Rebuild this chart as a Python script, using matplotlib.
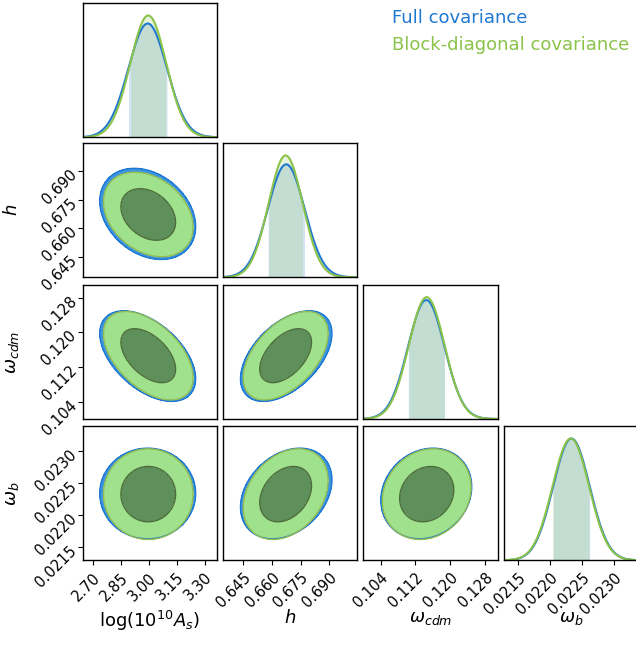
import numpy as np
import matplotlib
matplotlib.use("Agg")
import matplotlib.pyplot as plt

# parameters of the corner plot
params = ["logAs", "h", "omega_cdm", "omega_b"]
labels = [r"$\log(10^{10}A_s)$", r"$h$", r"$\omega_{cdm}$", r"$\omega_b$"]
ranges = [(2.646, 3.368), (0.6343, 0.7045), (0.1000, 0.1309), (0.021295, 0.02339)]
ticks = [[2.70, 2.85, 3.00, 3.15, 3.30],
         [0.645, 0.660, 0.675, 0.690],
         [0.104, 0.112, 0.120, 0.128],
         [0.0215, 0.0220, 0.0225, 0.0230]]
tick_fmt = ["%.2f", "%.3f", "%.3f", "%.4f"]

# posterior summaries
full_mean = [2.995, 0.6675, 0.1145, 0.02234]
full_sigma = [0.1035, 0.0096, 0.0042, 0.000285]
block_mean = [2.998, 0.6672, 0.1146, 0.02233]
block_sigma = [0.0967, 0.0089, 0.0041, 0.000285]

# correlation coefficients (i, j) -> rho
full_corr = {(0, 1): -0.28, (0, 2): -0.50, (0, 3): 0.0,
             (1, 2): 0.50, (1, 3): 0.30, (2, 3): 0.15}
block_corr = {(0, 1): -0.30, (0, 2): -0.50, (0, 3): 0.0,
              (1, 2): 0.50, (1, 3): 0.30, (2, 3): 0.15}

names = ["Full covariance", "Block-diagonal covariance"]

BLUE = "#1f78d0"
GREEN = "#8bc34a"

styles = [
    dict(line=BLUE, outer="#3d95e0", inner="#6f9a86", edge=BLUE, iedge=None, alpha=1.0),
    dict(line=GREEN, outer="#a4e48c", inner="#5f8f5a", edge="#94bd52", iedge="#4d6c3c", alpha=0.97),
]
datasets = [(full_mean, full_sigma, full_corr), (block_mean, block_sigma, block_corr)]

fig = plt.figure(figsize=(6.36, 6.48), dpi=100)

n = len(params)
lefts = [0.130, 0.350, 0.571, 0.793]
bottoms = [0.7881, 0.5721, 0.3534, 0.1353]
w, hgt = 0.2115, 0.2068

lev2 = [0, 2.30, 6.18]

for i in range(n):
    for j in range(i + 1):
        ax = fig.add_axes([lefts[j], bottoms[i], w, hgt])
        for sp in ax.spines.values():
            sp.set_linewidth(1.0)
        if i == j:
            x = np.linspace(ranges[i][0], ranges[i][1], 400)
            peaks = []
            for (m, s, c), st in zip(datasets, styles):
                pdf = np.exp(-0.5 * ((x - m[i]) / s[i]) ** 2) / (s[i] * np.sqrt(2 * np.pi))
                peaks.append(pdf.max())
                inside = (x >= m[i] - s[i]) & (x <= m[i] + s[i])
                ax.fill_between(x, 0, pdf, where=inside, color=st["line"], alpha=0.2, lw=0)
                ax.plot(x, pdf, color=st["line"], lw=1.5)
            ax.set_ylim(0, 1.1 * max(peaks))
            ax.set_yticks([])
        else:
            x = np.linspace(ranges[j][0], ranges[j][1], 300)
            y = np.linspace(ranges[i][0], ranges[i][1], 300)
            X, Y = np.meshgrid(x, y)
            for (m, s, c), st in zip(datasets, styles):
                rho = c[(j, i)]
                zx = (X - m[j]) / s[j]
                zy = (Y - m[i]) / s[i]
                d2 = (zx ** 2 - 2 * rho * zx * zy + zy ** 2) / (1 - rho ** 2)
                ax.contourf(X, Y, d2, levels=lev2, colors=[st["inner"], st["outer"]],
                            alpha=st["alpha"])
                if st["iedge"]:
                    ax.contour(X, Y, d2, levels=[2.30], colors=[st["iedge"]], linewidths=1.0)
                ax.contour(X, Y, d2, levels=[6.18], colors=[st["edge"]], linewidths=1.0)
            ax.set_ylim(ranges[i])
        ax.set_xlim(ranges[j])

        if i == n - 1:
            ax.set_xticks(ticks[j])
            ax.set_xticklabels([tick_fmt[j] % t for t in ticks[j]], rotation=45,
                               ha="right", rotation_mode="anchor", fontsize=10.5)
            ax.set_xlabel(labels[j], fontsize=13)
            ax.xaxis.set_label_coords(0.5, -0.36)
        else:
            ax.set_xticks([])
        if j == 0 and i > 0:
            ax.set_yticks(ticks[i])
            ax.set_yticklabels([tick_fmt[i] % t for t in ticks[i]], rotation=45,
                               ha="right", rotation_mode="anchor", fontsize=10.5)
            ax.set_ylabel(labels[i], fontsize=13)
            ax.yaxis.set_label_coords(-0.46, 0.5)
        elif i != j:
            ax.set_yticks([])

fig.text(392 / 636, 1 - 18 / 648, names[0], color=BLUE, fontsize=13, va="center")
fig.text(392 / 636, 1 - 45 / 648, names[1], color=GREEN, fontsize=13, va="center")

fig.savefig("out.png", dpi=100)
